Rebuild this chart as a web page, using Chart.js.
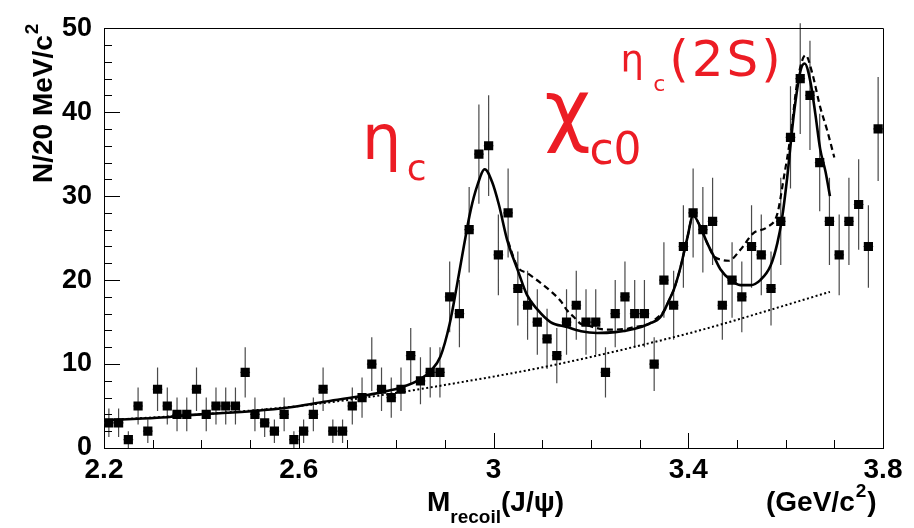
<!DOCTYPE html>
<html>
<head>
<meta charset="utf-8">
<style>
html,body{margin:0;padding:0;background:#fff;}
#wrap{width:914px;height:528px;position:relative;}
</style>
<script src="https://cdn.jsdelivr.net/npm/chart.js@4.4.0/dist/chart.umd.min.js"></script>
</head>
<body>
<div id="wrap"><canvas id="c" width="914" height="528"></canvas></div>
<script>
// ---- data ----
const binCenters = [
  2.21,2.23,2.25,2.27,2.29,2.31,2.33,2.35,2.37,2.39,
  2.41,2.43,2.45,2.47,2.49,2.51,2.53,2.55,2.57,2.59,
  2.61,2.63,2.65,2.67,2.69,2.71,2.73,2.75,2.77,2.79,
  2.81,2.83,2.85,2.87,2.89,2.91,2.93,2.95,2.97,2.99,
  3.01,3.03,3.05,3.07,3.09,3.11,3.13,3.15,3.17,3.19,
  3.21,3.23,3.25,3.27,3.29,3.31,3.33,3.35,3.37,3.39,
  3.41,3.43,3.45,3.47,3.49,3.51,3.53,3.55,3.57,3.59,
  3.61,3.63,3.65,3.67,3.69,3.71,3.73,3.75,3.77,3.79
];
const counts = [
  3,3,1,5,2,7,5,4,4,7,
  4,5,5,5,9,4,3,2,4,1,
  2,4,7,2,2,5,6,10,7,6,
  7,11,8,9,9,18,16,26,35,36,
  23,28,19,17,15,13,11,15,17,15,
  15,9,16,18,16,16,10,20,17,24,
  28,26,27,17,20,18,24,23,19,27,
  37,44,42,34,27,23,27,29,24,38
];
const countErrors = [
  1.7,1.7,1,2.2,1.4,2.6,2.2,2,2,2.6,
  2,2.2,2.2,2.2,3,2,1.7,1.4,2,1,
  1.4,2,2.6,1.4,1.4,2.2,2.4,3.2,2.6,2.4,
  2.6,3.3,2.8,3,3,4.2,4,5.1,5.9,6,
  4.8,5.3,4.4,4.1,3.9,3.6,3.3,3.9,4.1,3.9,
  3.9,3,4,4.2,4,4,3.2,4.5,4.1,4.9,
  5.3,5.1,5.2,4.1,4.5,4.2,4.9,4.8,4.4,5.2,
  6.1,6.6,6.5,5.8,5.2,4.8,5.2,5.4,4.9,6.2
];
const binHalfWidth = 0.01;

// full fit (solid)
const fitMass = [2.200,2.309,2.398,2.508,2.583,2.652,2.720,2.775,2.810,2.850,2.871,2.891,2.910,2.925,2.939,2.953,2.967,2.982,2.997,3.011,3.028,3.049,3.069,3.090,3.117,3.151,3.180,3.213,3.250,3.290,3.320,3.343,3.363,3.370,3.384,3.398,3.410,3.425,3.439,3.452,3.466,3.487,3.507,3.528,3.548,3.569,3.583,3.593,3.603,3.617,3.630,3.639,3.651,3.661,3.671,3.682,3.691];
const fitValue = [3.3,3.6,4.0,4.4,4.85,5.5,6.1,6.7,7.2,8.2,9.2,10.9,14.8,19.4,24.0,28.3,31.3,33.2,31.7,29.0,24.8,21.3,18.2,16.5,15.0,14.4,13.9,13.7,13.8,14.2,14.8,15.6,17.9,18.8,21.5,25.0,27.7,26.3,24.4,22.9,21.3,20.0,19.4,19.4,20.0,21.7,24.4,27.5,32.1,39.8,44.8,45.8,43.6,39.8,35.6,32.9,30.0];

// alternative fit (dashed)
const altMass = [3.030,3.049,3.070,3.096,3.117,3.138,3.151,3.165,3.179,3.192,3.233,3.275,3.288,3.316,3.336,3.350,3.363,3.370,3.384,3.398,3.410,3.425,3.439,3.452,3.470,3.483,3.507,3.534,3.562,3.583,3.596,3.610,3.624,3.641,3.654,3.671,3.685,3.700];
const altValue = [24.6,21.6,20.8,19.7,18.7,17.5,16.4,15.6,14.8,14.6,14.1,14.2,14.4,14.7,15.5,16.3,17.9,18.8,21.5,25.0,27.7,26.3,24.4,22.9,22.4,22.3,23.6,25.6,26.3,27.9,32.1,37.1,43.6,46.8,44.8,40.6,37.9,34.6];

// background (dotted)
const bkgMass = [2.200,2.398,2.583,2.747,2.940,3.117,3.384,3.466,3.691];
const bkgValue = [3.3,4.0,4.9,6.1,7.9,9.8,13.4,14.7,18.6];

const xTickValues = [2.2,2.6,3.0,3.4,3.8];
const xTickLabels = ['2.2','2.6','3','3.4','3.8'];
const yTickValues = [0,10,20,30,40,50];
const yTickLabels = ['0','10','20','30','40','50'];

// ---- helpers ----
const pts = (xs, ys) => xs.map((x, i) => ({x: x, y: ys[i]}));
const RED = '#ec1c24';
const AXFONT = "'Liberation Sans', Arial, Helvetica, sans-serif";
const GREEKFONT = "'DejaVu Sans', sans-serif";

const errorBars = {
  id: 'errorBars',
  beforeDatasetsDraw(chart) {
    const ctx = chart.ctx, xs = chart.scales.x, ys = chart.scales.y;
    ctx.save();
    ctx.strokeStyle = '#4a4a4a';
    ctx.lineWidth = 1.2;
    ctx.beginPath();
    for (let i = 0; i < counts.length; i++) {
      const px = xs.getPixelForValue(binCenters[i]);
      const y1 = ys.getPixelForValue(counts[i] + countErrors[i]);
      const y0 = ys.getPixelForValue(Math.max(0, counts[i] - countErrors[i]));
      ctx.moveTo(px, y0); ctx.lineTo(px, y1);
      const pyc = ys.getPixelForValue(counts[i]);
      ctx.moveTo(xs.getPixelForValue(binCenters[i] - binHalfWidth), pyc);
      ctx.lineTo(xs.getPixelForValue(binCenters[i] + binHalfWidth), pyc);
    }
    ctx.stroke();
    ctx.restore();
  }
};

const frameAndText = {
  id: 'frameAndText',
  afterDraw(chart) {
    const ctx = chart.ctx, xs = chart.scales.x, ys = chart.scales.y;
    const a = chart.chartArea;
    ctx.save();
    // frame
    ctx.strokeStyle = '#000';
    ctx.lineWidth = 1;
    ctx.beginPath();
    ctx.moveTo(Math.round(a.left) + 0.5, Math.round(a.top) + 0.5);
    ctx.lineTo(Math.round(a.right) + 0.5, Math.round(a.top) + 0.5);
    ctx.lineTo(Math.round(a.right) + 0.5, Math.round(a.bottom) + 0.5);
    ctx.stroke();
    // inner ticks
    ctx.beginPath();
    for (let i = 0; i <= 25; i++) {
      const v = i * 2;
      const py = Math.round(ys.getPixelForValue(v)) + 0.5;
      const len = (v % 10 === 0) ? 16 : 8;
      ctx.moveTo(a.left, py); ctx.lineTo(a.left + len, py);
    }
    for (let i = 0; i <= 16; i++) {
      const v = 2.2 + i * 0.1;
      const px = Math.round(xs.getPixelForValue(v)) + 0.5;
      const len = (i % 4 === 0) ? 15 : 8;
      ctx.moveTo(px, a.bottom); ctx.lineTo(px, a.bottom - len);
    }
    ctx.stroke();

    // y axis title
    ctx.fillStyle = '#000';
    ctx.save();
    ctx.translate(52, 183);
    ctx.rotate(-Math.PI / 2);
    ctx.font = "bold 28px " + AXFONT;
    ctx.textAlign = 'left';
    ctx.textBaseline = 'alphabetic';
    const ytxt = 'N/20 MeV/c';
    ctx.fillText(ytxt, 0, 0);
    const yw = ctx.measureText(ytxt).width;
    ctx.font = "bold 19px " + AXFONT;
    ctx.fillText('2', yw + 1, -14);
    ctx.restore();

    // x axis title
    ctx.textAlign = 'left';
    ctx.textBaseline = 'alphabetic';
    let x = 427;
    ctx.font = "bold 28px " + AXFONT;
    ctx.fillText('M', x, 511);
    x += ctx.measureText('M').width;
    ctx.font = "bold 19px " + AXFONT;
    ctx.fillText('recoil', x, 523);
    x += ctx.measureText('recoil').width;
    ctx.font = "bold 28px " + AXFONT;
    ctx.fillText('(J/\u03C8)', x, 511);
    let gx = 766;
    ctx.fillText('(GeV/c', gx, 511);
    gx += ctx.measureText('(GeV/c').width;
    ctx.font = "bold 19px " + AXFONT;
    ctx.fillText('2', gx + 1, 497);
    gx += ctx.measureText('2').width + 2;
    ctx.font = "bold 28px " + AXFONT;
    ctx.fillText(')', gx, 511);

    // red resonance labels (anchored in data coordinates)
    const P = (m, v) => [xs.getPixelForValue(m), ys.getPixelForValue(v)];
    ctx.fillStyle = RED;
    let p;
    ctx.font = "62px " + GREEKFONT;
    p = P(2.730, 34.4); ctx.fillText('\u03B7', p[0], p[1]);
    ctx.font = "36px " + GREEKFONT;
    p = P(2.822, 31.9); ctx.fillText('c', p[0], p[1]);

    ctx.font = "80px " + GREEKFONT;
    p = P(3.105, 37.2); ctx.fillText('\u03C7', p[0], p[1]);
    ctx.font = "44px " + GREEKFONT;
    p = P(3.197, 33.8); ctx.fillText('c0', p[0], p[1]);

    ctx.font = "37px " + GREEKFONT;
    p = P(3.261, 44.8); ctx.fillText('\u03B7', p[0], p[1]);
    ctx.font = "22px " + GREEKFONT;
    p = P(3.328, 42.5); ctx.fillText('c', p[0], p[1]);
    ctx.font = "50px " + GREEKFONT;
    try { ctx.letterSpacing = '3px'; } catch (e) {}
    p = P(3.361, 44.3); ctx.fillText('(2S)', p[0], p[1]);
    ctx.restore();
  }
};

new Chart(document.getElementById('c'), {
  type: 'scatter',
  data: {
    datasets: [
      {
        label: 'data',
        data: pts(binCenters, counts),
        pointStyle: 'rect',
        pointRadius: 6.5,
        pointHoverRadius: 6.5,
        backgroundColor: '#000',
        borderColor: '#000',
        borderWidth: 0,
        showLine: false
      },
      {
        label: 'fit',
        data: pts(fitMass, fitValue),
        showLine: true,
        pointRadius: 0,
        borderColor: '#000',
        borderWidth: 2.6,
        fill: false,
        cubicInterpolationMode: 'monotone'
      },
      {
        label: 'alternative fit',
        data: pts(altMass, altValue),
        showLine: true,
        pointRadius: 0,
        borderColor: '#000',
        borderWidth: 2.2,
        borderDash: [6, 4],
        fill: false,
        cubicInterpolationMode: 'monotone'
      },
      {
        label: 'background',
        data: pts(bkgMass, bkgValue),
        showLine: true,
        pointRadius: 0,
        borderColor: '#000',
        borderWidth: 2,
        borderDash: [2, 2.5],
        fill: false,
        cubicInterpolationMode: 'monotone'
      }
    ]
  },
  options: {
    responsive: false,
    animation: false,
    devicePixelRatio: 1,
    events: [],
    layout: {padding: {top: 15, right: 31, left: 0, bottom: 0}},
    plugins: {legend: {display: false}, tooltip: {enabled: false}},
    scales: {
      x: {
        type: 'linear',
        min: 2.2, max: 3.8,
        afterFit(s) { s.height = 80; },
        afterBuildTicks(s) { s.ticks = xTickValues.map(v => ({value: v})); },
        ticks: {
          autoSkip: false, maxRotation: 0, minRotation: 0, padding: 5,
          color: '#000',
          font: {family: AXFONT, weight: 'bold', size: 28},
          callback: (v, i) => xTickLabels[i]
        },
        grid: {display: false, drawTicks: false},
        border: {display: true, color: '#000', width: 1}
      },
      y: {
        type: 'linear',
        min: 0, max: 50,
        afterFit(s) { s.width = 104; },
        afterBuildTicks(s) { s.ticks = yTickValues.map(v => ({value: v})); },
        ticks: {
          padding: 12,
          color: '#000',
          font: {family: AXFONT, weight: 'bold', size: 27},
          callback: (v, i) => yTickLabels[i]
        },
        grid: {display: false, drawTicks: false},
        border: {display: true, color: '#000', width: 1}
      }
    }
  },
  plugins: [errorBars, frameAndText]
});
</script>
</body>
</html>
